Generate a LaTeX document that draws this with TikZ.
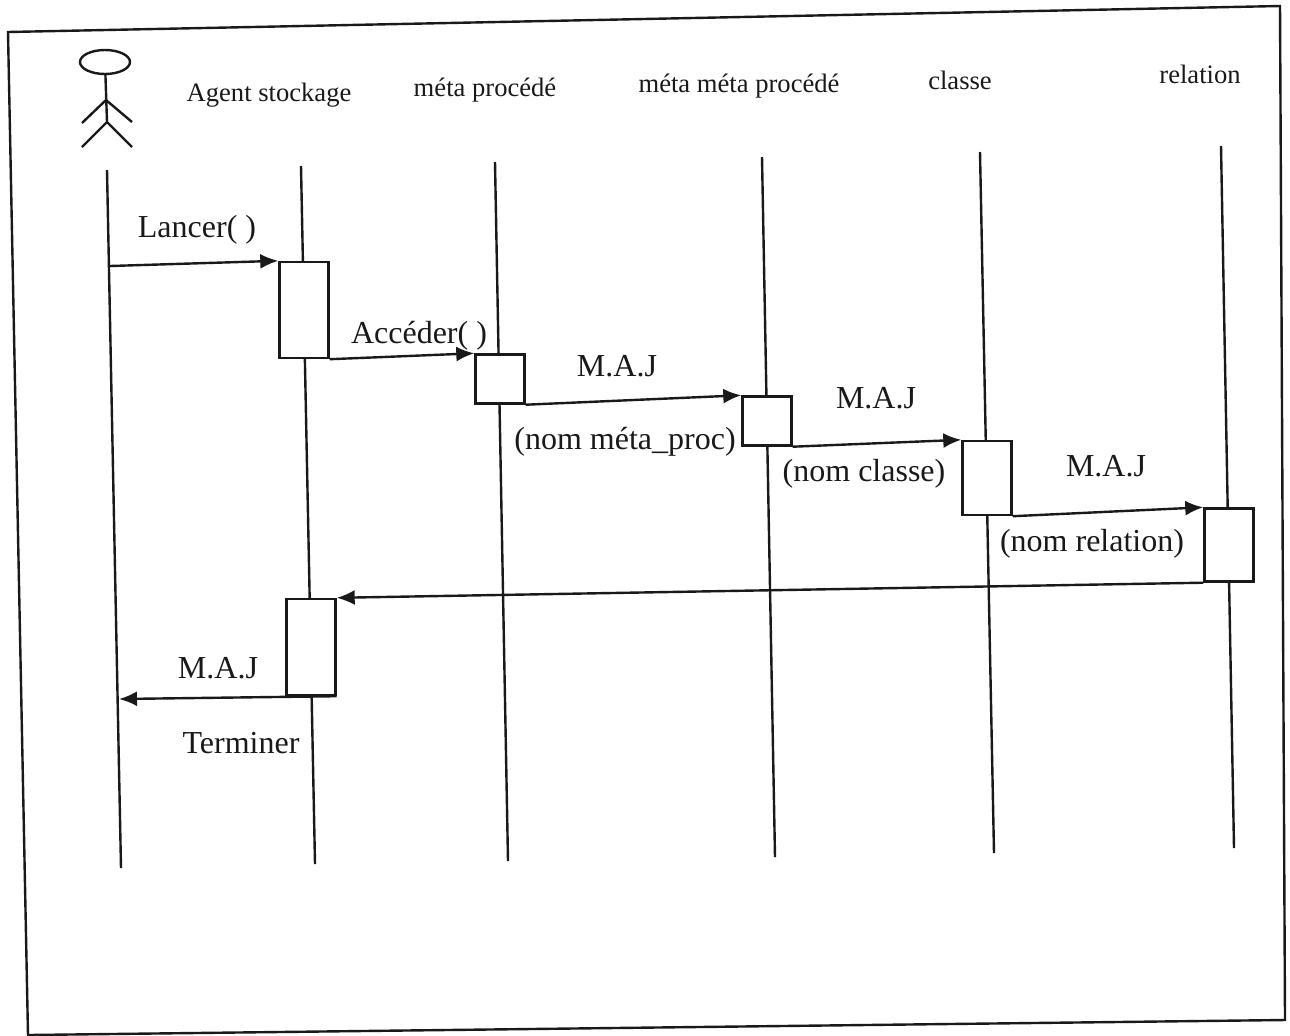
\documentclass[tikz,border=0pt]{standalone}
\usepackage{fontspec}
\setmainfont{Liberation Serif}
\usetikzlibrary{arrows.meta,positioning,shapes.geometric}
\definecolor{scanInk}{RGB}{25,25,25}
\begin{document}
\begin{tikzpicture}[
      x=0.5pt,y=-0.5pt,
      ink/.style={draw=scanInk,line width=1.2pt},
      lifeline/.style={ink},
      act/.style={ink,fill=white,minimum width=24.5pt,inner sep=0pt},
      msg/.style={ink,-{Latex[length=9pt,width=7.5pt]}},
      head/.style={font=\fontsize{13.3}{15}\selectfont,text=scanInk,inner sep=0pt},
      lbl/.style={font=\fontsize{16}{18}\selectfont,text=scanInk,inner sep=0pt}
    ]
    \useasboundingbox (0,0) rectangle (1290,1035);
    % frame
    \draw[ink] (8,32) -- (1280,6) -- (1285,1020) -- (28,1035) -- cycle;
    % actor
    \node[ink,ellipse,minimum width=25pt,minimum height=12pt,inner sep=0pt] (actor) at (105,62) {};
    \coordinate (hip) at (107,122);
    \coordinate (armL) at (82,123);
    \coordinate (armR) at (132,122);
    \coordinate (neckA) at (106,100);
    \coordinate (footL) at (82,147);
    \coordinate (footR) at (132,147);
    \draw[ink] (actor) -- (hip);
    \draw[ink] (armL) -- (neckA) -- (armR);
    \draw[ink] (footL) -- (hip) -- (footR);
    % headers
    \node[head] (hAgent) at (269,95) {Agent stockage};
    \node[head] (hMeta) at (485,90) {méta procédé};
    \node[head] (hMM) at (739,86) {méta méta procédé};
    \node[head] (hClasse) at (960,80) {classe};
    \node[head] (hRel) at (1200,74) {relation};
    % life lines
    \foreach \nm/\xa/\ya/\xb/\yb in {u/107/170/121/868,a/301/166/315/864,m/495/162/508/861,mm/762/157/775/857,c/980/152/994/853,r/1221/146/1234/848}{
      \coordinate (\nm T) at (\xa,\ya);
      \coordinate (\nm B) at (\xb,\yb);
      \draw[lifeline] (\nm T) -- (\nm B);
    }
    % activations
    \node[act,minimum height=48pt] (a1) at (304,310) {};
    \node[act,minimum height=24.5pt] (a2) at (500,379) {};
    \node[act,minimum height=24.5pt] (a3) at (767,421) {};
    \node[act,minimum height=37pt] (a4) at (987,478) {};
    \node[act,minimum height=36.5pt] (a5) at (1229,545) {};
    \node[act,minimum height=48pt] (a6) at (311,647) {};
    % messages
    \coordinate (uOut) at (110,266);
    \coordinate (uIn) at (119,699);
    \draw[msg] (uOut) -- (a1.north west);
    \draw[msg] (a1.south east) -- (a2.north west);
    \draw[msg] (a2.south east) -- (a3.north west);
    \draw[msg] (a3.south east) -- (a4.north west);
    \draw[msg] (a4.south east) -- (a5.north west);
    \draw[msg] (a5.south west) -- (a6.north east);
    \draw[msg] (a6.south east) -- (uIn);
    % labels
    \node[lbl] (l1) at (197,230) {Lancer( )};
    \node[lbl] (l2) at (419,336) {Accéder( )};
    \node[lbl] (l3) at (617,366) {M.A.J};
    \node[lbl] (l4) at (625,442) {(nom méta\_proc)};
    \node[lbl] (l5) at (876,398) {M.A.J};
    \node[lbl] (l6) at (864,474) {(nom classe)};
    \node[lbl] (l7) at (1106,466) {M.A.J};
    \node[lbl] (l8) at (1092,544) {(nom relation)};
    \node[lbl] (l9) at (218,668) {M.A.J};
    \node[lbl] (l10) at (241,743) {Terminer};
  \end{tikzpicture}
\end{document}
